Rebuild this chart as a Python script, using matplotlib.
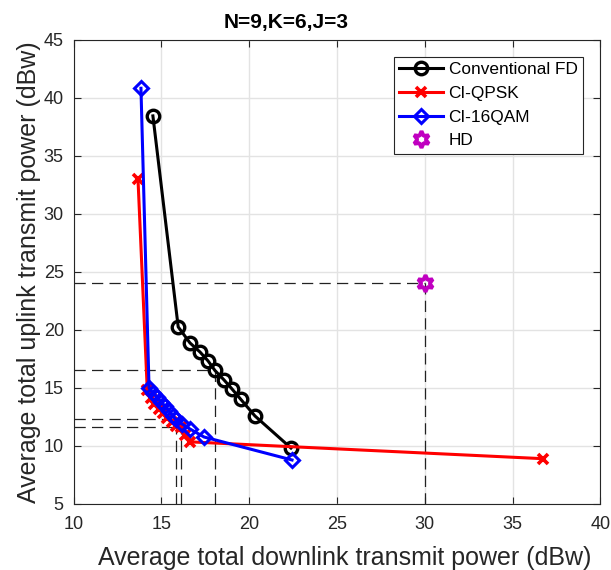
import matplotlib.pyplot as plt
from matplotlib.ticker import MultipleLocator

plt.rcParams['font.family'] = ['Liberation Sans', 'DejaVu Sans']

# Conventional FD
fd_x = [14.52, 15.96, 16.63, 17.20, 17.66, 18.05, 18.57, 19.02, 19.53, 20.33, 22.38]
fd_y = [38.42, 20.25, 18.87, 18.09, 17.32, 16.50, 15.68, 14.91, 14.00, 12.58, 9.82]

# CI-QPSK
qpsk_x = [13.67, 14.20, 14.40, 14.60, 14.85, 15.10, 15.35, 15.60, 15.85, 16.10, 16.35, 16.65, 36.75]
qpsk_y = [33.00, 14.80, 14.10, 13.60, 13.20, 12.80, 12.40, 12.05, 11.75, 11.60, 10.90, 10.35, 8.90]

# CI-16QAM
qam_x = [13.84, 14.30, 14.52, 14.75, 14.98, 15.21, 15.44, 15.66, 15.82, 16.18, 16.63, 17.43, 22.44]
qam_y = [40.80, 15.00, 14.56, 14.22, 13.79, 13.44, 13.01, 12.58, 12.29, 11.89, 11.46, 10.77, 8.79]

# HD
hd_x = [30.0]
hd_y = [24.0]

# reference points marked with dashed guide lines
guide_x = [30.0, 18.05, 15.82, 16.10]
guide_y = [24.0, 16.50, 12.29, 11.60]

fig = plt.figure(figsize=(6.11, 5.70), dpi=100)
ax = fig.add_axes([0.1203, 0.1158, 0.8625, 0.8149])

for gx, gy in zip(guide_x, guide_y):
    ax.plot([10, gx], [gy, gy], color="#222222", lw=0.9, ls=(0, (9, 5)), zorder=1)
    ax.plot([gx, gx], [5, gy], color="#222222", lw=0.9, ls=(0, (9, 5)), zorder=1)

ax.plot(fd_x, fd_y, "-o", color="k", lw=2.2, ms=9, mew=2.4, mfc="none", label="Conventional FD", zorder=3)
ax.plot(qpsk_x, qpsk_y, "-x", color="red", lw=2.2, ms=7, mew=2.6, label="CI-QPSK", zorder=3)
ax.plot(qam_x, qam_y, "-D", color="blue", lw=2.2, ms=7.5, mew=2.2, mfc="none", label="CI-16QAM", zorder=4)
ax.plot(hd_x, hd_y, ls="none", marker=(6, 1, 0), color="#c000c0", ms=12, mew=2.8, mfc="none",
        label="HD", zorder=5)

ax.set_xlim(10, 40)
ax.set_ylim(5, 45)
ax.xaxis.set_major_locator(MultipleLocator(5))
ax.yaxis.set_major_locator(MultipleLocator(5))
ax.grid(True, color="#e3e3e3", lw=1)
ax.set_axisbelow(True)
ax.tick_params(direction="in", top=True, right=True, labelsize=13, length=5, colors="#262626",
               labelcolor="#262626")
ax.tick_params(axis="x", pad=9)
ax.tick_params(axis="y", pad=7)
for s in ax.spines.values():
    s.set_color("#262626")

ax.set_xlabel("Average total downlink transmit power (dBw)", fontsize=18, color="#262626", labelpad=7)
ax.xaxis.set_label_coords(0.515, -0.09)
ax.set_ylabel("Average total uplink transmit power (dBw)", fontsize=18, color="#262626", labelpad=2)
ax.text(0.403, 1.037, "N=9,K=6,J=3", transform=ax.transAxes, ha="center", va="center",
        fontsize=15, fontweight="bold")

leg = ax.legend(loc="upper right", bbox_to_anchor=(0.966, 0.962), fontsize=12.4, fancybox=False,
                framealpha=1, edgecolor="#262626", handlelength=2.5, borderpad=0.3,
                labelspacing=0.5, handletextpad=0.35, borderaxespad=0)
leg.get_frame().set_linewidth(0.8)

fig.savefig("out.png", dpi=100)
